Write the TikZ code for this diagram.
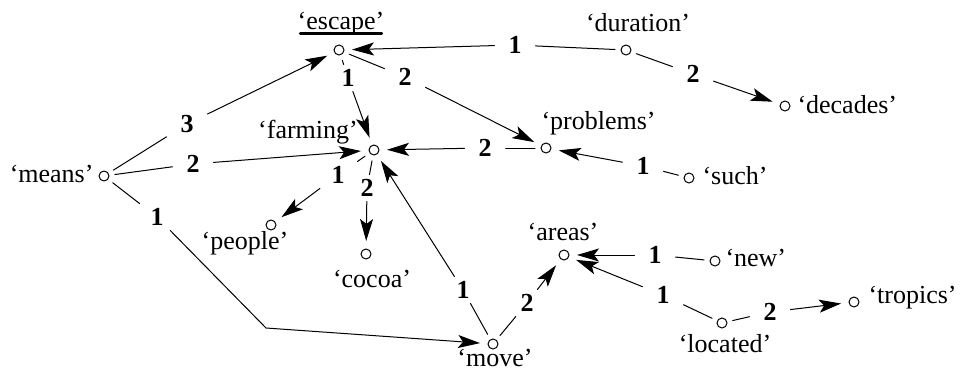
\documentclass[tikz,border=0pt]{standalone}
\usepackage{fontspec}
\setmainfont{Liberation Serif}
\usetikzlibrary{arrows.meta}
\begin{document}
\begin{tikzpicture}[x=0.5pt,y=-0.5pt,line cap=round,line width=0.5pt,
    vertex/.style={circle,draw,inner sep=0pt,minimum size=5pt,outer sep=3pt},
    word/.style={inner sep=0pt,font=\fontsize{13}{15}\selectfont},
    weight/.style={rectangle,inner sep=0pt,minimum width=20pt,minimum height=13pt,
        font=\fontsize{13}{15}\selectfont\bfseries},
    link/.style={-{Stealth[length=11pt,width=6.5pt,inset=2.5pt]},shorten >=1pt}]

    \useasboundingbox (0,0) rectangle (960,380);

    \node[vertex] (escape) at (339,50) {};
    \node[vertex] (duration) at (626,50) {};
    \node[vertex] (decades) at (785,106) {};
    \node[vertex] (problems) at (546,148) {};
    \node[vertex] (such) at (689,178) {};
    \node[vertex] (farming) at (374,150) {};
    \node[vertex] (means) at (104,176) {};
    \node[vertex] (people) at (271,225) {};
    \node[vertex] (cocoa) at (366,254) {};
    \node[vertex] (areas) at (564,255) {};
    \node[vertex] (new) at (715,261) {};
    \node[vertex] (move) at (493,344) {};
    \node[vertex] (located) at (722,323) {};
    \node[vertex] (tropics) at (854,302) {};

    \node[word,anchor=base] (lescape) at (341,30) {‘escape’};
    \draw[line width=1.4pt] ([xshift=1.5pt,yshift=-1.6pt]lescape.base west) -- ([xshift=-1.5pt,yshift=-1.6pt]lescape.base east);
    \node[word,anchor=base] (lduration) at (638,32) {‘duration’};
    \node[word,anchor=base west] (ldecades) at (797,113) {‘decades’};
    \node[word,anchor=base west] (lproblems) at (541,129) {‘problems’};
    \node[word,anchor=base west] (lsuch) at (702,184) {‘such’};
    \node[word,anchor=base] (lfarming) at (308,138) {‘farming’};
    \node[word,anchor=base east] (lmeans) at (94,182) {‘means’};
    \node[word,anchor=base] (lpeople) at (245,249) {‘people’};
    \node[word,anchor=base] (lcocoa) at (372,287) {‘cocoa’};
    \node[word,anchor=base] (lmove) at (495,366) {‘move’};
    \node[word,anchor=base] (lareas) at (563,240) {‘areas’};
    \node[word,anchor=base west] (lnew) at (725,266) {‘new’};
    \node[word,anchor=base] (llocated) at (725,352) {‘located’};
    \node[word,anchor=base west] (ltropics) at (868,303) {‘tropics’};

    \node[weight] (me) at (187,124) {3};
    \node[weight] (mf) at (193,164) {2};
    \node[weight] (mm) at (157,217) {1};
    \node[weight] (ef) at (348,78) {1};
    \node[weight] (ep) at (405,77) {2};
    \node[weight] (de) at (515,45) {1};
    \node[weight] (dd) at (693,74) {2};
    \node[weight] (pf) at (485,148) {2};
    \node[weight] (sp) at (643,166) {1};
    \node[weight] (fp) at (338,175) {1};
    \node[weight] (fc) at (367,188) {2};
    \node[weight] (vf) at (463,290) {1};
    \node[weight] (va) at (527,303) {2};
    \node[weight] (na) at (655,255) {1};
    \node[weight] (la) at (663,295) {1};
    \node[weight] (lt) at (770,312) {2};

    \coordinate (bend) at (266,328);

    \draw (means) -- (me) edge[link] (escape);
    \draw (means) -- (mf) edge[link] (farming);
    \draw (means) -- (mm);
    \draw[link] (mm) -- (bend) -- (move);
    \draw (escape) -- (ef) edge[link] (farming);
    \draw (escape) -- (ep) edge[link] (problems);
    \draw (duration) -- (de) edge[link] (escape);
    \draw (duration) -- (dd) edge[link] (decades);
    \draw (problems) -- (pf) edge[link] (farming);
    \draw (such) -- (sp) edge[link] (problems);
    \draw (farming) -- (fp) edge[link] (people);
    \draw (farming) -- (fc) edge[link] (cocoa);
    \draw (move) -- (vf) edge[link] (farming);
    \draw (move) -- (va) edge[link] (areas);
    \draw (new) -- (na) edge[link] (areas);
    \draw (located) -- (la) edge[link] (areas);
    \draw (located) -- (lt) edge[link] (tropics);

\end{tikzpicture}
\end{document}
